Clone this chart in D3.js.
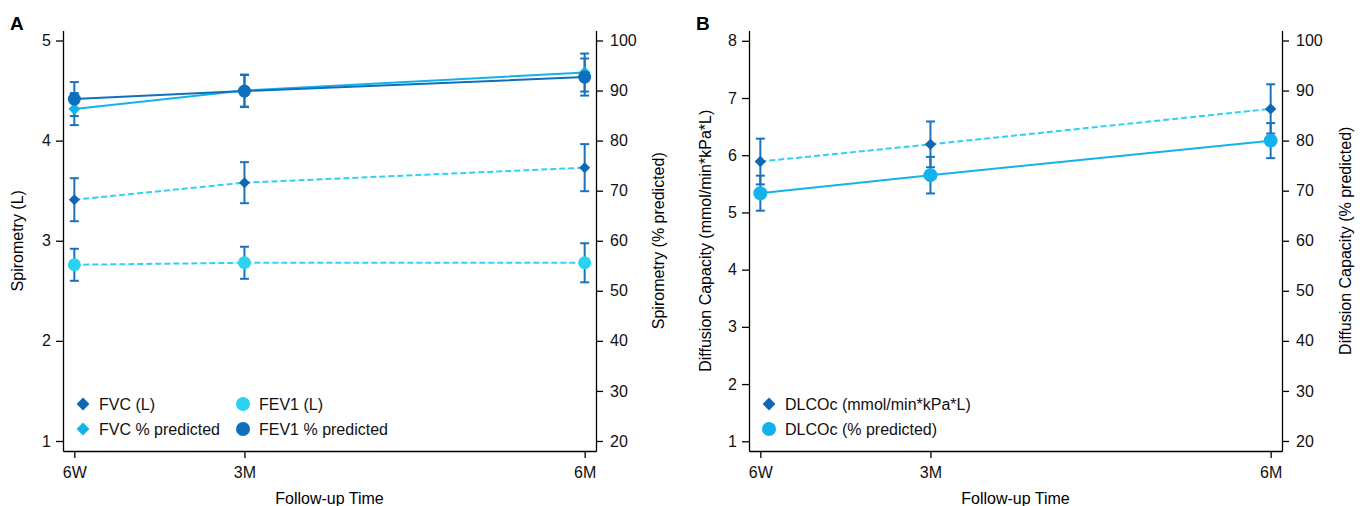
<!DOCTYPE html>
<html>
<head>
<meta charset="UTF-8">
<title>Spirometry and diffusion capacity</title>
<script src="https://cdn.jsdelivr.net/npm/d3@7"></script>
<style>
    body { margin: 0; background: #fff; }
    svg { font-family: "Liberation Sans", Arial, sans-serif; }
    .axis path, .axis line { stroke: #000; stroke-width: 1.3; }
    .axis text { font-size: 16px; fill: #111; }
</style>
</head>
<body>
<div id="chart"></div>
<script>
    // follow-up timepoints (months since discharge)
    const timeLabels = ["6W", "3M", "6M"];
    const timeMonths = [1.5, 3, 6];

    // panel A, litres (left axis)
    const fvcL = [3.41, 3.58, 3.73];
    const fvcLErr = [0.215, 0.205, 0.235];
    const fev1L = [2.76, 2.78, 2.78];
    const fev1LErr = [0.16, 0.16, 0.195];
    // panel A, % predicted (right axis)
    const fvcPct = [86.3, 90.0, 93.6];
    const fvcPctErr = [3.2, 3.2, 3.8];
    const fev1Pct = [88.3, 89.9, 92.7];
    const fev1PctErr = [3.4, 3.2, 3.7];

    // panel B
    const dlcoAbs = [5.89, 6.19, 6.81];
    const dlcoAbsErr = [0.40, 0.40, 0.43];
    const dlcoPct = [69.5, 73.1, 80.0];
    const dlcoPctErr = [3.5, 3.65, 3.5];

    const leftTicksA = [1, 2, 3, 4, 5];
    const leftTicksB = [1, 2, 3, 4, 5, 6, 7, 8];
    const pctTicks = [20, 30, 40, 50, 60, 70, 80, 90, 100];

    const darkBlue = "#1167b4";
    const lightBlue = "#14b2ea";
    const cyan = "#2bd3f2";
    const errColor = "#1a72bd";

    const svg = d3.select("#chart").append("svg")
        .attr("width", 1367).attr("height", 506);

    const plotTop = 30.5, plotBottom = 451;

    function drawPanel(cfg) {
        const g = svg.append("g");
        const x = d3.scaleLinear().domain([1.4, 6.1]).range([cfg.x0, cfg.x1]);
        const yL = d3.scaleLinear().domain(cfg.leftDomain).range([plotBottom, plotTop]);
        const yR = d3.scaleLinear().domain([18, 102]).range([plotBottom, plotTop]);

        g.append("g").attr("class", "axis")
            .attr("transform", "translate(" + cfg.x0 + ",0)")
            .call(d3.axisLeft(yL).tickValues(cfg.leftTicks).tickFormat(d3.format("d"))
                .tickSize(7).tickSizeOuter(0).tickPadding(5));
        g.append("g").attr("class", "axis")
            .attr("transform", "translate(" + cfg.x1 + ",0)")
            .call(d3.axisRight(yR).tickValues(pctTicks).tickSize(7).tickSizeOuter(0).tickPadding(7));
        g.append("g").attr("class", "axis")
            .attr("transform", "translate(0," + plotBottom + ")")
            .call(d3.axisBottom(x).tickValues(timeMonths).tickFormat((d, i) => timeLabels[i])
                .tickSize(7).tickSizeOuter(0).tickPadding(9));
        g.selectAll(".axis .domain").attr("fill", "none");

        // titles
        g.append("text").attr("x", (cfg.x0 + cfg.x1) / 2).attr("y", 504)
            .attr("text-anchor", "middle").style("font-size", "16px").text("Follow-up Time");
        g.append("text").attr("transform", "translate(" + cfg.leftTitleX + "," + ((plotTop + plotBottom) / 2) + ") rotate(-90)")
            .attr("text-anchor", "middle").attr("dy", "0.35em").style("font-size", "16px").text(cfg.leftTitle);
        g.append("text").attr("transform", "translate(" + cfg.rightTitleX + "," + ((plotTop + plotBottom) / 2) + ") rotate(-90)")
            .attr("text-anchor", "middle").attr("dy", "0.35em").style("font-size", "16px").text(cfg.rightTitle);
        g.append("text").attr("x", cfg.letterX).attr("y", 30)
            .style("font-size", "19px").style("font-weight", "bold").text(cfg.letter);

        // series: lines first, then error bars, then markers
        cfg.series.forEach(s => {
            const y = s.axis === "left" ? yL : yR;
            const pts = s.values.map((v, i) => ({x: x(timeMonths[i]), y: y(v), lo: y(v - s.err[i]), hi: y(v + s.err[i])}));
            s.pts = pts;
            g.append("path")
                .attr("d", d3.line().x(p => p.x).y(p => p.y)(pts))
                .attr("fill", "none").attr("stroke", s.lineColor).attr("stroke-width", 2)
                .attr("stroke-dasharray", s.dashed ? "6,3" : null);
        });
        cfg.series.forEach(s => {
            s.pts.forEach(p => {
                g.append("line").attr("x1", p.x).attr("x2", p.x).attr("y1", p.lo).attr("y2", p.hi)
                    .attr("stroke", errColor).attr("stroke-width", 2);
                [p.lo, p.hi].forEach(yy => g.append("line")
                    .attr("x1", p.x - 4.5).attr("x2", p.x + 4.5).attr("y1", yy).attr("y2", yy)
                    .attr("stroke", errColor).attr("stroke-width", 2));
            });
        });
        cfg.series.forEach(s => {
            s.pts.forEach(p => drawMarker(g, s.shape, p.x, p.y, s.markerColor, s.size));
        });

        // legend
        cfg.legend.forEach(item => {
            drawMarker(g, item.shape, item.x, item.y, item.color, 7);
            g.append("text").attr("x", item.x + 16).attr("y", item.y).attr("dy", "0.36em")
                .style("font-size", "16px").attr("fill", "#111").text(item.label);
        });
    }

    function drawMarker(g, shape, cx, cy, color, size) {
        if (shape === "circle") {
            g.append("circle").attr("cx", cx).attr("cy", cy).attr("r", size).attr("fill", color);
        } else {
            const d = size * 0.92;
            g.append("path")
                .attr("d", "M" + cx + "," + (cy - d) + "L" + (cx + d) + "," + cy + "L" + cx + "," + (cy + d) + "L" + (cx - d) + "," + cy + "Z")
                .attr("fill", color);
        }
    }

    drawPanel({
        x0: 63, x1: 596, letter: "A", letterX: 10,
        leftDomain: [0.9, 5.1], leftTicks: leftTicksA,
        leftTitle: "Spirometry (L)", leftTitleX: 17,
        rightTitle: "Spirometry (% predicted)", rightTitleX: 658,
        series: [
            {values: fvcL, err: fvcLErr, axis: "left", dashed: true, lineColor: cyan, markerColor: darkBlue, shape: "diamond", size: 6},
            {values: fev1L, err: fev1LErr, axis: "left", dashed: true, lineColor: cyan, markerColor: cyan, shape: "circle", size: 6.5},
            {values: fvcPct, err: fvcPctErr, axis: "right", dashed: false, lineColor: lightBlue, markerColor: lightBlue, shape: "diamond", size: 6.5},
            {values: fev1Pct, err: fev1PctErr, axis: "right", dashed: false, lineColor: "#0e6fbc", markerColor: "#0e6fbc", shape: "circle", size: 6.5}
        ],
        legend: [
            {label: "FVC (L)", shape: "diamond", color: darkBlue, x: 83, y: 404},
            {label: "FVC % predicted", shape: "diamond", color: lightBlue, x: 83, y: 429},
            {label: "FEV1 (L)", shape: "circle", color: cyan, x: 243, y: 404},
            {label: "FEV1 % predicted", shape: "circle", color: "#0e6fbc", x: 243, y: 429}
        ]
    });

    drawPanel({
        x0: 749, x1: 1282, letter: "B", letterX: 696,
        leftDomain: [0.83, 8.18], leftTicks: leftTicksB,
        leftTitle: "Diffusion Capacity (mmol/min*kPa*L)", leftTitleX: 705,
        rightTitle: "Diffusion Capacity (% predicted)", rightTitleX: 1345,
        series: [
            {values: dlcoPct, err: dlcoPctErr, axis: "right", dashed: false, lineColor: lightBlue, markerColor: lightBlue, shape: "circle", size: 7},
            {values: dlcoAbs, err: dlcoAbsErr, axis: "left", dashed: true, lineColor: cyan, markerColor: darkBlue, shape: "diamond", size: 6.2}
        ],
        legend: [
            {label: "DLCOc (mmol/min*kPa*L)", shape: "diamond", color: darkBlue, x: 769, y: 404},
            {label: "DLCOc (% predicted)", shape: "circle", color: lightBlue, x: 769, y: 429}
        ]
    });
</script>
</body>
</html>
